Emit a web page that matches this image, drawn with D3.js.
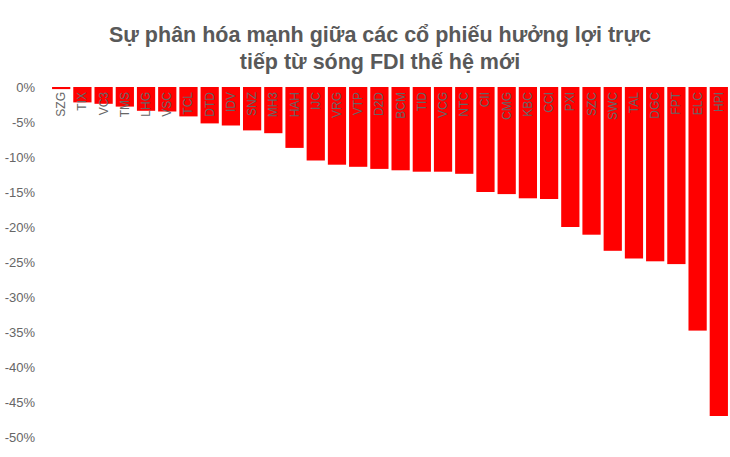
<!DOCTYPE html>
<html>
<head>
<meta charset="utf-8">
<script src="https://cdn.jsdelivr.net/npm/d3@7"></script>
<style>
  body { margin: 0; background: #fff; }
  svg { display: block; font-family: "Liberation Sans", Arial, sans-serif; }
</style>
</head>
<body>
<div id="chart"></div>
<script>
const titleLines = ["Sự phân hóa mạnh giữa các cổ phiếu hưởng lợi trực", "tiếp từ sóng FDI thế hệ mới"]

const tickers = ["SZG", "TIX", "VC3", "TMS", "LHG", "VSC", "TCL", "DTD", "IDV", "SNZ", "MH3", "HAH",
    "IJC", "VRG", "VTP", "D2D", "BCM", "TID", "VCG", "NTC", "CII", "CMG", "KBC", "CCI",
    "PXI", "SZC", "SWC", "TAL", "DGC", "FPT", "ELC", "HPI"]

// % change
const changes = [-0.3, -2.2, -2.4, -2.8, -3.4, -3.5, -4.2, -5.2, -5.5, -6.2, -6.6, -8.7,
    -10.5, -11.1, -11.4, -11.7, -11.9, -12.1, -12.1, -12.4, -15.0, -15.3, -15.9, -16.0,
    -20.0, -21.1, -23.4, -24.5, -24.9, -25.3, -34.8, -47.0]

const yTicks = [0, -5, -10, -15, -20, -25, -30, -35, -40, -45, -50]

const width = 730, height = 457
const margin = { top: 87, right: 1, bottom: 20, left: 51 }

const svg = d3.select("#chart").append("svg")
    .attr("width", width)
    .attr("height", height)

svg.selectAll(".title")
    .data(titleLines)
    .enter().append("text")
    .attr("class", "title")
    .attr("x", 380)
    .attr("y", (d, i) => 42 + i * 27)
    .attr("text-anchor", "middle")
    .style("font-size", "21.5px")
    .style("font-weight", "bold")
    .style("fill", "#595959")
    .text(d => d)

const x = d3.scaleBand()
    .domain(tickers)
    .range([margin.left, width - margin.right])
    .paddingInner(0.14)
    .paddingOuter(0.05)

const y = d3.scaleLinear()
    .domain([0, -50])
    .range([margin.top, height - margin.bottom])

// y axis, labels only
const yAxis = svg.append("g")
    .attr("transform", `translate(${margin.left - 13},0)`)
    .call(d3.axisLeft(y).tickValues(yTicks).tickSize(0).tickFormat(d => d + "%"))

yAxis.select(".domain").remove()
yAxis.selectAll("text")
    .style("font-size", "13px")
    .style("fill", "#666")
    .style("font-family", "'Liberation Sans', Arial, sans-serif")

svg.selectAll(".bar")
    .data(changes)
    .enter().append("rect")
    .attr("class", "bar")
    .attr("x", (d, i) => x(tickers[i]))
    .attr("y", y(0))
    .attr("width", x.bandwidth())
    .attr("height", d => y(d) - y(0))
    .style("fill", "#ff0000")

svg.selectAll(".lbl")
    .data(tickers)
    .enter().append("text")
    .attr("class", "lbl")
    .attr("transform", d => `translate(${x(d) + x.bandwidth() / 2 + 4},${y(0) + 5}) rotate(-90)`)
    .attr("text-anchor", "end")
    .style("font-size", "12px")
    .style("fill", "#666")
    .text(d => d)
</script>
</body>
</html>
